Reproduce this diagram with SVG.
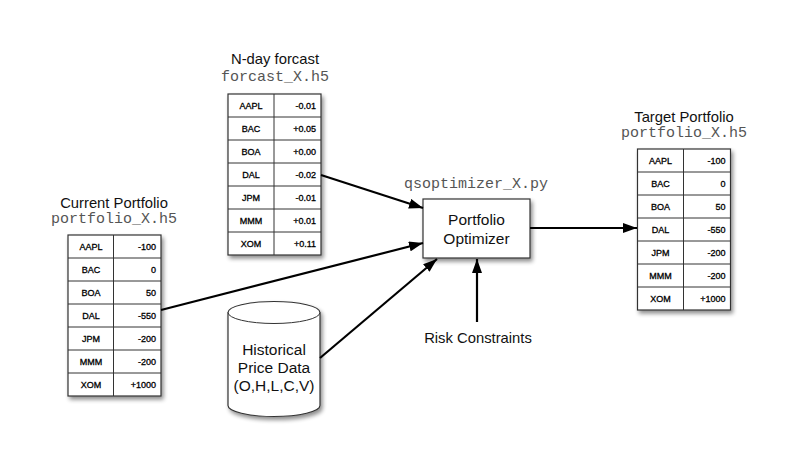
<svg xmlns="http://www.w3.org/2000/svg" width="809" height="450" viewBox="0 0 809 450">
  <defs>
    <style>
      .title { font-family: "Liberation Sans", Arial, sans-serif; font-size: 14.8px; fill: #111; text-anchor: middle; }
      .mono { font-family: "Liberation Mono", "Courier New", monospace; font-size: 15px; fill: #555; text-anchor: middle; }
      .node-text { font-family: "Liberation Sans", Arial, sans-serif; font-size: 15.5px; fill: #111; text-anchor: middle; }
      .cell { font-family: "Liberation Sans", Arial, sans-serif; font-size: 9px; fill: #000; stroke: #000; stroke-width: 0.3; }
      .key { text-anchor: middle; }
      .val { text-anchor: end; }
      .frame { fill: #fff; stroke: #333; stroke-width: 1.2; }
      .grid { stroke: #333; stroke-width: 1; fill: none; }
      .conn { stroke: #000; stroke-width: 2.2; fill: none; marker-end: url(#arrow); }
    </style>
    <filter id="shadow" x="-20%" y="-20%" width="140%" height="140%">
      <feGaussianBlur in="SourceAlpha" stdDeviation="2"/>
      <feOffset dx="2" dy="3" result="blur"/>
      <feComponentTransfer><feFuncA type="linear" slope="0.45"/></feComponentTransfer>
      <feMerge><feMergeNode/><feMergeNode in="SourceGraphic"/></feMerge>
    </filter>
    <marker id="arrow" markerUnits="userSpaceOnUse" markerWidth="14" markerHeight="10" refX="14" refY="5" orient="auto">
      <path d="M0,0 L14,5 L0,10 z" fill="#000"/>
    </marker>
  </defs>

  <rect width="809" height="450" fill="#fff"/>

  <!-- N-day forecast table -->
  <g id="forecast">
    <text class="title" x="275" y="64">N-day forcast</text>
    <text class="mono" x="275" y="81">forcast_X.h5</text>
    <rect class="frame" x="228" y="94" width="93" height="161" filter="url(#shadow)"/>
    <path class="grid" d="M274,94 V255 M228,117 H321 M228,140 H321 M228,163 H321 M228,186 H321 M228,209 H321 M228,232 H321"/>
    <g class="cell">
      <text class="key" x="251" y="108.5">AAPL</text><text class="val" x="316" y="108.5">-0.01</text>
      <text class="key" x="251" y="131.5">BAC</text><text class="val" x="316" y="131.5">+0.05</text>
      <text class="key" x="251" y="154.5">BOA</text><text class="val" x="316" y="154.5">+0.00</text>
      <text class="key" x="251" y="177.5">DAL</text><text class="val" x="316" y="177.5">-0.02</text>
      <text class="key" x="251" y="200.5">JPM</text><text class="val" x="316" y="200.5">-0.01</text>
      <text class="key" x="251" y="223.5">MMM</text><text class="val" x="316" y="223.5">+0.01</text>
      <text class="key" x="251" y="246.5">XOM</text><text class="val" x="316" y="246.5">+0.11</text>
    </g>
  </g>

  <!-- Current portfolio table -->
  <g id="current-portfolio">
    <text class="title" x="114" y="208">Current Portfolio</text>
    <text class="mono" x="114" y="223">portfolio_X.h5</text>
    <rect class="frame" x="68" y="235" width="93" height="161" filter="url(#shadow)"/>
    <path class="grid" d="M113.5,235 V396 M68,258 H161 M68,281 H161 M68,304 H161 M68,327 H161 M68,350 H161 M68,373 H161"/>
    <g class="cell">
      <text class="key" x="91" y="249.5">AAPL</text><text class="val" x="156" y="249.5">-100</text>
      <text class="key" x="91" y="272.5">BAC</text><text class="val" x="156" y="272.5">0</text>
      <text class="key" x="91" y="295.5">BOA</text><text class="val" x="156" y="295.5">50</text>
      <text class="key" x="91" y="318.5">DAL</text><text class="val" x="156" y="318.5">-550</text>
      <text class="key" x="91" y="341.5">JPM</text><text class="val" x="156" y="341.5">-200</text>
      <text class="key" x="91" y="364.5">MMM</text><text class="val" x="156" y="364.5">-200</text>
      <text class="key" x="91" y="387.5">XOM</text><text class="val" x="156" y="387.5">+1000</text>
    </g>
  </g>

  <!-- Target portfolio table -->
  <g id="target-portfolio">
    <text class="title" x="684" y="122">Target Portfolio</text>
    <text class="mono" x="684" y="137">portfolio_X.h5</text>
    <rect class="frame" x="637.5" y="149" width="93" height="161" filter="url(#shadow)"/>
    <path class="grid" d="M683.5,149 V310 M637.5,172 H730.5 M637.5,195 H730.5 M637.5,218 H730.5 M637.5,241 H730.5 M637.5,264 H730.5 M637.5,287 H730.5"/>
    <g class="cell">
      <text class="key" x="660.5" y="163.5">AAPL</text><text class="val" x="725.5" y="163.5">-100</text>
      <text class="key" x="660.5" y="186.5">BAC</text><text class="val" x="725.5" y="186.5">0</text>
      <text class="key" x="660.5" y="209.5">BOA</text><text class="val" x="725.5" y="209.5">50</text>
      <text class="key" x="660.5" y="232.5">DAL</text><text class="val" x="725.5" y="232.5">-550</text>
      <text class="key" x="660.5" y="255.5">JPM</text><text class="val" x="725.5" y="255.5">-200</text>
      <text class="key" x="660.5" y="278.5">MMM</text><text class="val" x="725.5" y="278.5">-200</text>
      <text class="key" x="660.5" y="301.5">XOM</text><text class="val" x="725.5" y="301.5">+1000</text>
    </g>
  </g>

  <!-- Optimizer process -->
  <g id="optimizer">
    <text class="mono" x="476" y="188">qsoptimizer_X.py</text>
    <rect class="frame" x="423" y="199" width="107" height="59" filter="url(#shadow)"/>
    <text class="node-text" x="476.5" y="225">Portfolio</text>
    <text class="node-text" x="476.5" y="244">Optimizer</text>
  </g>

  <!-- Historical price data store -->
  <g id="price-data">
    <path class="frame" filter="url(#shadow)" d="M228,312.5 A46,11 0 0 1 320,312.5 V405.5 A46,11 0 0 1 228,405.5 Z"/>
    <path class="grid" stroke-width="1.2" d="M228,312.5 A46,11 0 0 0 320,312.5"/>
    <text class="node-text" x="274" y="355">Historical</text>
    <text class="node-text" x="274" y="373">Price Data</text>
    <text class="node-text" x="274" y="391">(O,H,L,C,V)</text>
  </g>

  <!-- Risk constraints label -->
  <g id="risk-constraints">
    <text class="title" x="478" y="343">Risk Constraints</text>
  </g>

  <!-- Connectors -->
  <g id="connectors">
    <line class="conn" x1="321" y1="175" x2="423" y2="208"/>
    <line class="conn" x1="161" y1="310" x2="423" y2="243"/>
    <line class="conn" x1="320" y1="358" x2="437" y2="259"/>
    <line class="conn" x1="477" y1="322" x2="477" y2="259"/>
    <line class="conn" x1="530" y1="228" x2="637" y2="228"/>
  </g>
</svg>
